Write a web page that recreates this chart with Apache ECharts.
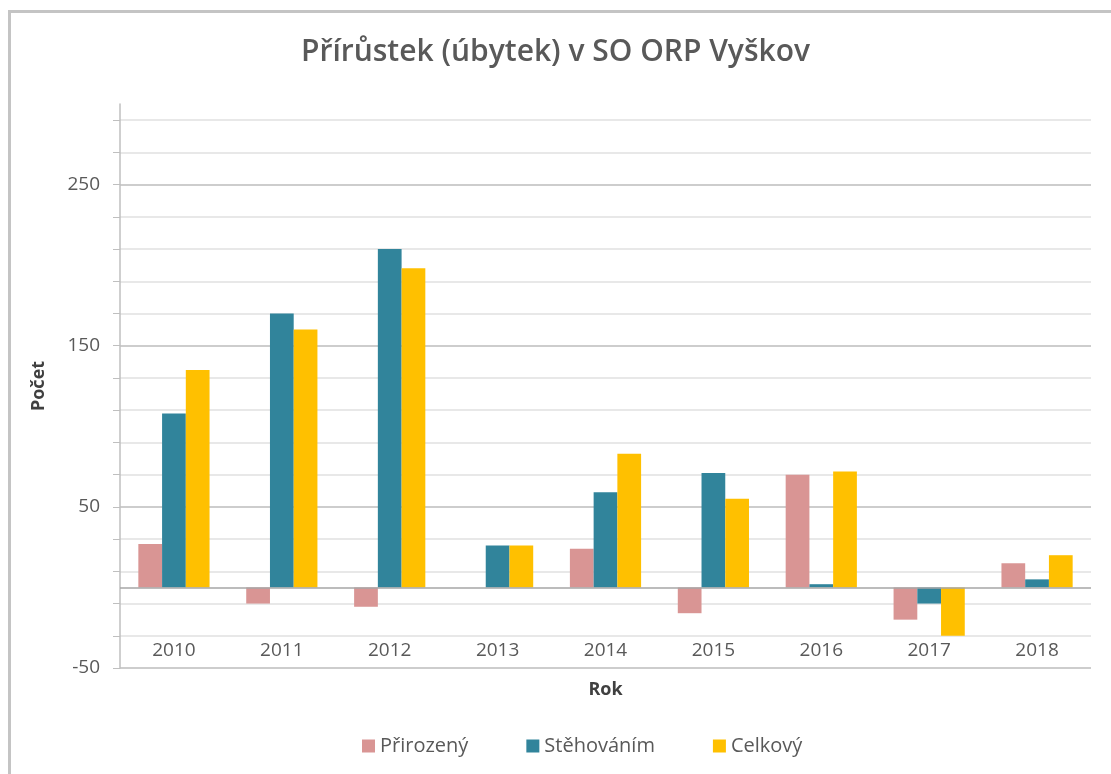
<!DOCTYPE html>
<html>
<head>
<meta charset="utf-8">
<script src="https://cdn.jsdelivr.net/npm/echarts@6/dist/echarts.min.js"></script>
<style>
    html, body {
        margin: 0;
        padding: 0;
        background: #fff;
        overflow: hidden;
    }
    #chart {
        position: absolute;
        left: 0;
        top: 0;
        width: 1111px;
        height: 774px;
    }
    #frame {
        position: absolute;
        left: 8px;
        top: 10px;
        width: 1200px;
        height: 900px;
        border-top: 3px solid #c4c4c4;
        border-left: 3px solid #c4c4c4;
        pointer-events: none;
    }
</style>
</head>
<body>
<div id="chart"></div>
<div id="frame"></div>
<script>
const years = ['2010', '2011', '2012', '2013', '2014', '2015', '2016', '2017', '2018'];
const prirozeny = [27, -10, -12, 0, 24, -16, 70, -20, 15];
const stehovanim = [108, 170, 210, 26, 59, 71, 2, -10, 5];
const celkovy = [135, 160, 198, 26, 83, 55, 72, -30, 20];
const seriesNames = ['Přirozený', 'Stěhováním', 'Celkový'];
const colors = ['#d99594', '#31849b', '#ffc000'];

const font = '"Open Sans", sans-serif';
const textGray = '#595959';

const chart = echarts.init(document.getElementById('chart'));

function bar(name, data, color) {
    return {
        name: name,
        type: 'bar',
        data: data,
        barGap: 0,
        barCategoryGap: '34%',
        itemStyle: { color: color },
        emphasis: { disabled: true }
    };
}

const series = [
    bar(seriesNames[0], prirozeny, colors[0]),
    bar(seriesNames[1], stehovanim, colors[1]),
    bar(seriesNames[2], celkovy, colors[2])
];
// zero line
series[0].markLine = {
    silent: true,
    symbol: 'none',
    label: { show: false },
    lineStyle: { color: '#a6a6a6', type: 'solid', width: 1.5 },
    data: [{ yAxis: 0 }]
};

chart.setOption({
    animation: false,
    backgroundColor: '#fff',
    textStyle: { fontFamily: font },
    title: {
        text: 'Přírůstek (úbytek) v SO ORP Vyškov',
        left: 'center',
        top: 32,
        textStyle: {
            fontFamily: font,
            fontSize: 30,
            fontWeight: 600,
            color: textGray
        }
    },
    legend: {
        left: 357,
        top: 731,
        itemWidth: 13,
        itemHeight: 13,
        itemGap: 58,
        icon: 'rect',
        textStyle: { fontFamily: font, fontSize: 20, color: textGray },
        data: seriesNames
    },
    grid: {
        left: 120,
        right: 20,
        top: 104,
        bottom: 106,
        containLabel: false
    },
    xAxis: {
        type: 'category',
        data: years,
        position: 'bottom',
        axisLine: { show: false, onZero: false },
        axisTick: { show: false },
        axisLabel: {
            margin: -27,
            fontFamily: font,
            fontSize: 19,
            color: textGray
        },
        name: 'Rok',
        nameLocation: 'middle',
        nameGap: 13,
        nameTextStyle: {
            fontFamily: font,
            fontSize: 18,
            fontWeight: 'bold',
            color: '#404040',
            verticalAlign: 'top'
        }
    },
    yAxis: {
        type: 'value',
        min: -50,
        max: 300,
        interval: 20,
        axisLine: { show: true, lineStyle: { color: '#bfbfbf', width: 1.5 } },
        axisTick: { show: true, length: 7, lineStyle: { color: '#bfbfbf' } },
        axisLabel: {
            margin: 20,
            showMaxLabel: false,
            fontFamily: font,
            fontSize: 19,
            color: textGray,
            formatter: function (v) {
                return (v + 50) % 100 === 0 && v < 300 ? String(v) : '';
            }
        },
        splitLine: {
            show: true,
            showMaxLine: false,
            lineStyle: {
                color: ['#bcbcbc', '#e0e0e0', '#e0e0e0', '#e0e0e0', '#e0e0e0'],
                width: 1.5
            }
        },
        name: 'Počet',
        nameLocation: 'middle',
        nameRotate: 90,
        nameGap: 72,
        nameTextStyle: {
            fontFamily: font,
            fontSize: 18,
            fontWeight: 'bold',
            color: '#404040'
        }
    },
    series: series
});
</script>
</body>
</html>
